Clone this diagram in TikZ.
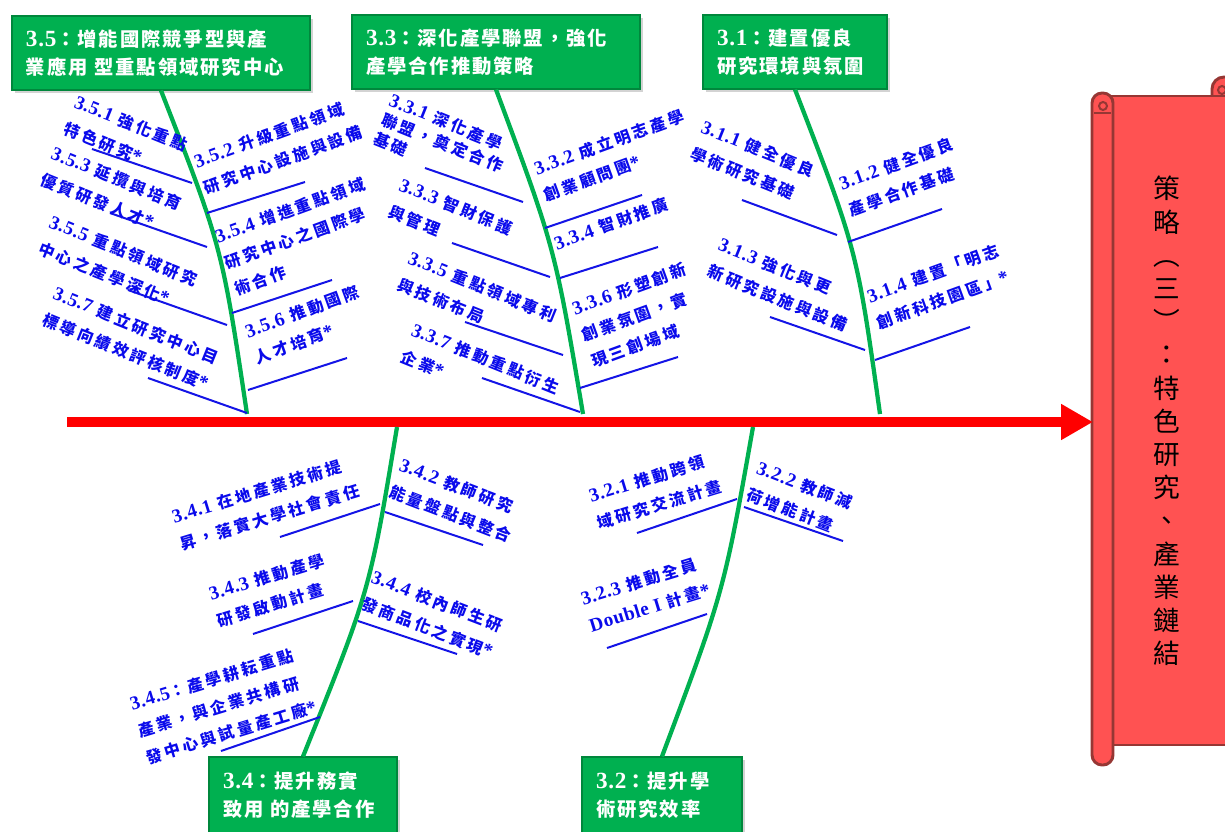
\documentclass[tikz,border=0pt]{standalone}
\usepackage{fontspec}
\setmainfont{Noto Sans CJK TC}
\newfontfamily\latls{Liberation Serif}[LetterSpace=3,Scale=1.2]
\newfontfamily\cjkls{Noto Sans CJK TC}[LetterSpace=18]
\newfontfamily\cjkbox{Noto Sans CJK TC}[LetterSpace=10]
\usetikzlibrary{shadows,arrows.meta}
\definecolor{gfill}{RGB}{0,176,80}
\definecolor{gedge}{RGB}{0,135,60}
\definecolor{lblue}{RGB}{10,10,235}
\definecolor{rblue}{RGB}{20,20,230}
\definecolor{scrollfill}{RGB}{255,82,82}
\definecolor{scrolledge}{RGB}{150,55,52}
\newcommand\nm[1]{{\latls\bfseries #1}}
\newcommand\rib[3]{\coordinate (#1a) at (#2);\coordinate (#1b) at (#3);\draw[rib] (#1a) -- (#1b);}
\begin{document}
\begin{tikzpicture}[x=0.75pt,y=-0.75pt,
 rib/.style={draw=rblue,line width=1.5pt},
 bone/.style={draw=gfill,line width=3.2pt},
 lbl/.style={inner sep=0pt,anchor=north west,align=left,text=lblue,font={\cjkls\bfseries\fontsize{12pt}{21pt}\selectfont}},
 lblt/.style={lbl,font={\cjkls\bfseries\fontsize{12pt}{15.5pt}\selectfont}},
 gbox/.style={draw=gedge,line width=0.8pt,fill=gfill,text=white,align=left,inner xsep=10.5pt,inner ysep=0pt,minimum height=55.5pt,font={\cjkbox\bfseries\fontsize{14.5pt}{21pt}\selectfont},drop shadow={shadow xshift=2pt,shadow yshift=-2.5pt,opacity=0.35}},
 spine/.style={draw=red,line width=7.5pt},
 sc/.style={fill=scrollfill,draw=scrolledge,line width=2.2pt}
]
\useasboundingbox (0,0) rectangle (1225,832);
\clip (0,0) rectangle (1225,832);

% scroll
\draw[sc,rounded corners=9pt] (1212,115) -- (1212,77) -- (1245,77) -- (1245,115);
\draw[scrolledge,line width=1.5pt] (1222,90) circle[radius=4];
\draw[sc] (1106,96) rectangle (1245,745);
\draw[sc,rounded corners=7.5pt] (1092,93) rectangle (1113,765);
\draw[scrolledge,line width=1.5pt] (1103,106) circle[radius=4];
\draw[scrolledge,line width=1.5pt] (1094,113) -- (1111,113);
\node[font={\fontsize{20pt}{24.9pt}\selectfont},align=center,inner sep=0pt] (title) at (1167,421)
 {策\\略\\︵\\三\\︶\\：\\特\\色\\研\\究\\、\\產\\業\\鏈\\結};

% spine
\coordinate (sp0) at (67,422);
\coordinate (tip) at (1093,422);
\draw[spine,-{Triangle[length=24pt,width=25.5pt]}] (sp0) -- (tip);

% boxes
\node[gbox,text width=202.5pt] (b35) at (161,53) {\nm{3.5}：增能國際競爭型與產\\業應用 型重點領域研究中心};
\node[gbox,text width=195pt] (b33) at (496,52) {\nm{3.3}：深化產學聯盟，強化\\產學合作推動策略};
\node[gbox,text width=117pt] (b31) at (795,52) {\nm{3.1}：建置優良\\研究環境與氛圍};
\node[gbox,text width=120pt,minimum height=57pt] (b34) at (303,795) {\nm{3.4}：提升務實\\致用 的產學合作};
\node[gbox,text width=99pt,minimum height=57pt] (b32) at (662,795) {\nm{3.2}：提升學\\術研究效率};

% bones
\coordinate (e35) at (247,414);
\coordinate (e33) at (583,414);
\coordinate (e31) at (880,414);
\coordinate (e34) at (397,427);
\coordinate (e32) at (753,427);
\draw[bone] (b35.south) .. controls (222,247) .. (e35);
\draw[bone] (b33.south) .. controls (555,248) .. (e33);
\draw[bone] (b31.south) .. controls (857,250) .. (e31);
\draw[bone] (e34) .. controls (370,590) .. (b34.north);
\draw[bone] (e32) .. controls (724,591) .. (b32.north);

% ribs
\rib{r351}{92,149}{192,183}
\rib{r353}{110,213}{207,247}
\rib{r355}{128,290}{227,325}
\rib{r357}{148,378}{247,413}
\rib{r352}{207,213}{305,182}
\rib{r354}{232,313}{332,280}
\rib{r356}{248,390}{347,358}
\rib{r331}{425,168}{523,202}
\rib{r333}{452,243}{550,277}
\rib{r335}{465,322}{563,355}
\rib{r337}{482,378}{580,412}
\rib{r332}{545,228}{642,195}
\rib{r334}{560,278}{658,247}
\rib{r336}{580,388}{678,357}
\rib{r311}{742,200}{837,235}
\rib{r313}{770,317}{865,350}
\rib{r312}{848,242}{942,209}
\rib{r314}{875,360}{970,327}
\rib{r341}{280,537}{380,504}
\rib{r343}{253,634}{353,601}
\rib{r345}{221,751}{320,717}
\rib{r342}{385,512}{483,545}
\rib{r344}{358,621}{457,654}
\rib{r321}{637,533}{737,499}
\rib{r323}{607,648}{707,614}
\rib{r322}{744,507}{843,541}

% labels top-left
\node[lbl,rotate=-22] (l351) at (78,94) {\nm{3.5.1} 強化重點\\特色研究\nm{*}};
\node[lbl,rotate=-22] (l353) at (55,145) {\nm{3.5.3} 延攬與培育\\優質研發人才\nm{*}};
\node[lbl,rotate=-22] (l355) at (53,214) {\nm{3.5.5} 重點領域研究\\中心之產學深化\nm{*}};
\node[lbl,rotate=-22] (l357) at (57,285) {\nm{3.5.7} 建立研究中心目\\標導向績效評核制度\nm{*}};
\node[lblt,rotate=-22] (l331) at (393,92) {\nm{3.3.1} 深化產學\\聯盟，奠定合作\\基礎};
\node[lbl,rotate=-22] (l333) at (403,177) {\nm{3.3.3} 智財保護\\與管理};
\node[lbl,rotate=-22] (l335) at (412,250) {\nm{3.3.5} 重點領域專利\\與技術布局};
\node[lbl,rotate=-22] (l337) at (415,322) {\nm{3.3.7} 推動重點衍生\\企業\nm{*}};
\node[lbl,rotate=-22] (l311) at (705,119) {\nm{3.1.1} 健全優良\\學術研究基礎};
\node[lbl,rotate=-22] (l313) at (722,237) {\nm{3.1.3} 強化與更\\新研究設施與設備};
% labels top-right
\node[lbl,rotate=20] (l352) at (192,155) {\nm{3.5.2} 升級重點領域\\研究中心設施與設備};
\node[lbl,rotate=20] (l354) at (213,230) {\nm{3.5.4} 增進重點領域\\研究中心之國際學\\術合作};
\node[lbl,rotate=20] (l356) at (243,325) {\nm{3.5.6} 推動國際\\人才培育\nm{*}};
\node[lbl,rotate=20] (l332) at (532,162) {\nm{3.3.2} 成立明志產學\\創業顧問團\nm{*}};
\node[lbl,rotate=20] (l334) at (552,237) {\nm{3.3.4} 智財推廣};
\node[lbl,rotate=20] (l336) at (570,302) {\nm{3.3.6} 形塑創新\\創業氛圍，實\\現三創場域};
\node[lbl,rotate=20] (l312) at (837,177) {\nm{3.1.2} 健全優良\\產學合作基礎};
\node[lbl,rotate=20] (l314) at (865,290) {\nm{3.1.4} 建置「明志\\創新科技園區」\nm{*}};
% labels bottom-left
\node[lbl,rotate=17] (l341) at (170,510) {\nm{3.4.1} 在地產業技術提\\昇，落實大學社會責任};
\node[lbl,rotate=17] (l343) at (207,587) {\nm{3.4.3} 推動產學\\研發啟動計畫};
\node[lbl,rotate=17] (l345) at (128,697) {\nm{3.4.5}：產學耕耘重點\\產業，與企業共構研\\發中心與試量產工廠\nm{*}};
\node[lbl,rotate=17] (l321) at (587,489) {\nm{3.2.1} 推動跨領\\域研究交流計畫};
\node[lbl,rotate=17] (l323) at (579,592) {\nm{3.2.3} 推動全員\\\nm{Double I} 計畫\nm{*}};
% labels bottom-right
\node[lbl,rotate=-21] (l342) at (403,457) {\nm{3.4.2} 教師研究\\能量盤點與整合};
\node[lbl,rotate=-21] (l344) at (375,569) {\nm{3.4.4} 校內師生研\\發商品化之實現\nm{*}};
\node[lbl,rotate=-21] (l322) at (760,460) {\nm{3.2.2} 教師減\\荷增能計畫};
\end{tikzpicture}
\end{document}
